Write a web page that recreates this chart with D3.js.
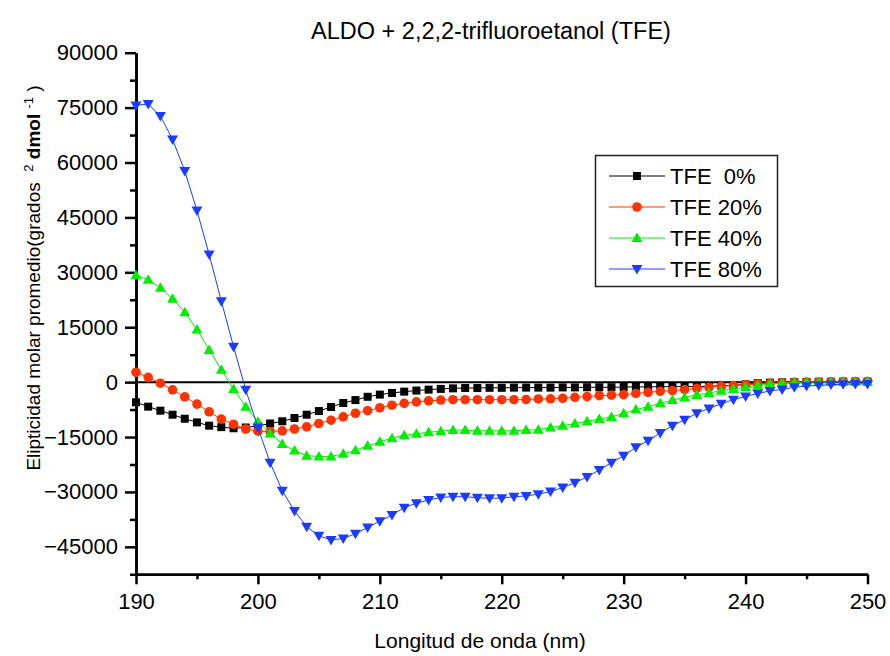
<!DOCTYPE html>
<html>
<head>
<meta charset="utf-8">
<script src="https://cdn.jsdelivr.net/npm/d3@7/dist/d3.min.js"></script>
<style>
    body { margin: 0; background: #fff; }
    #canvas text { font-family: "Liberation Sans", Arial, sans-serif; fill: #000; }
</style>
</head>
<body>
<div id="canvas"></div>
<script>
"use strict"

// DATA

let wavelengths = [
    190, 191, 192, 193, 194, 195, 196, 197, 198, 199,
    200, 201, 202, 203, 204, 205, 206, 207, 208, 209,
    210, 211, 212, 213, 214, 215, 216, 217, 218, 219,
    220, 221, 222, 223, 224, 225, 226, 227, 228, 229,
    230, 231, 232, 233, 234, 235, 236, 237, 238, 239,
    240, 241, 242, 243, 244, 245, 246, 247, 248, 249,
    250
];

let tfe0 = [
    -5500, -6700, -7800, -8900, -10000, -11000, -11900, -12300, -12600, -12400,
    -12000, -11300, -10700, -9800, -8900, -7900, -6800, -5700, -4900, -4000,
    -3400, -2950, -2600, -2300, -2050, -1850, -1700, -1600, -1600, -1550,
    -1550, -1500, -1500, -1500, -1500, -1450, -1450, -1400, -1400, -1400,
    -1350, -1300, -1300, -1250, -1250, -1200, -1200, -1100, -1000, -900,
    -600, -300, -150, -50, 0, 50, 100, 100, 150, 150,
    150
];

let tfe20 = [
    2700, 1300, -300, -2100, -4000, -6000, -8100, -10100, -11500, -12800,
    -13400, -13500, -13300, -12800, -12200, -11300, -10400, -9500, -8500, -7800,
    -7000, -6300, -5800, -5400, -5100, -4900, -4800, -4800, -4800, -4800,
    -4800, -4800, -4750, -4600, -4550, -4400, -4150, -3950, -3700, -3550,
    -3400, -3100, -2800, -2500, -2300, -2050, -1700, -1400, -1150, -950,
    -700, -500, -330, -200, -50, 0, 50, 100, 100, 150,
    150
];

let tfe40 = [
    29200, 28000, 25800, 22800, 19100, 14400, 8800, 3400, -1900, -6700,
    -10800, -14000, -16900, -18700, -20100, -20300, -20300, -19600, -18600, -17400,
    -16300, -15300, -14500, -14100, -13700, -13400, -13100, -13100, -13300, -13300,
    -13300, -13300, -13100, -13000, -12400, -11900, -11300, -10700, -10100, -9500,
    -8500, -7500, -6700, -5800, -4900, -4200, -3500, -2950, -2350, -1850,
    -1400, -950, -500, -330, -150, -50, 0, 50, 100, 100,
    150
];

let tfe80 = [
    75600, 76000, 72700, 66300, 57700, 46900, 34900, 22100, 9700, -2100,
    -12400, -22000, -29700, -35200, -39500, -42000, -43100, -42700, -41400, -39700,
    -38000, -36300, -34300, -33100, -32200, -31500, -31300, -31300, -31600, -31700,
    -31700, -31300, -31100, -30600, -29900, -28800, -27500, -25900, -24000, -22000,
    -20100, -17800, -16000, -13900, -11900, -10300, -8500, -7200, -5900, -4800,
    -3900, -3100, -2400, -2000, -1400, -1050, -870, -680, -600, -500,
    -500
];

let seriesNames = ["TFE  0%", "TFE 20%", "TFE 40%", "TFE 80%"];
let seriesValues = [tfe0, tfe20, tfe40, tfe80];
let seriesColors = ["#000000", "#ff3300", "#00ee00", "#1a3cff"];
let seriesSymbols = ["square", "circle", "triangleUp", "triangleDown"];

let xTicks = [190, 200, 210, 220, 230, 240, 250];
let xMinorTicks = [195, 205, 215, 225, 235, 245];
let yTicks = [-45000, -30000, -15000, 0, 15000, 30000, 45000, 60000, 75000, 90000];
let yMinorTicks = [-52500, -37500, -22500, -7500, 7500, 22500, 37500, 52500, 67500, 82500];


// CONFIGURATION VARIABLES

let svgWidth = 890;
let svgHeight = 656;
let plotLeft = 136;
let plotRight = 867.5;
let plotTop = 52.7;
let plotBottom = 574.3;


// CREATE SVG

let svg = d3.select("#canvas")
    .append("svg")
    .attr("width", svgWidth)
    .attr("height", svgHeight);


// SCALES

let xScale = d3.scaleLinear()
    .domain([190, 250])
    .range([plotLeft, plotRight]);

let yScale = d3.scaleLinear()
    .domain([-52500, 90000])
    .range([plotBottom, plotTop]);


// AXES

let xAxis = svg.append("g")
    .attr("transform", "translate(0," + plotBottom + ")")
    .call(d3.axisBottom(xScale).tickValues(xTicks).tickSize(10).tickPadding(9)
        .tickSizeOuter(0).tickFormat(d3.format("d")));

svg.append("g")
    .attr("transform", "translate(0," + plotBottom + ")")
    .call(d3.axisBottom(xScale).tickValues(xMinorTicks).tickSize(5).tickFormat("").tickSizeOuter(0));

let yAxis = svg.append("g")
    .attr("transform", "translate(" + plotLeft + ",0)")
    .call(d3.axisLeft(yScale).tickValues(yTicks).tickSize(11).tickPadding(7)
        .tickSizeOuter(0).tickFormat(d3.format("d")));

svg.append("g")
    .attr("transform", "translate(" + plotLeft + ",0)")
    .call(d3.axisLeft(yScale).tickValues(yMinorTicks).tickSize(6).tickFormat("").tickSizeOuter(0));

svg.selectAll(".domain, .tick line")
    .attr("stroke", "#000")
    .attr("stroke-width", 2.5);

xAxis.selectAll(".tick text")
    .style("font-size", "22px");

yAxis.selectAll(".tick text")
    .style("font-size", "22px");


// ZERO LINE

svg.append("line")
    .attr("x1", xScale(190))
    .attr("x2", xScale(250))
    .attr("y1", yScale(0))
    .attr("y2", yScale(0))
    .attr("stroke", "#000")
    .attr("stroke-width", 2);


// SYMBOLS

function drawSymbol(g, type, cx, cy, color) {
    if (type === "square") {
        g.append("rect")
            .attr("x", cx - 4).attr("y", cy - 4)
            .attr("width", 8).attr("height", 8)
            .attr("fill", color);
    } else if (type === "circle") {
        g.append("circle")
            .attr("cx", cx).attr("cy", cy).attr("r", 4.8)
            .attr("fill", color);
    } else if (type === "triangleUp") {
        g.append("path")
            .attr("d", "M" + (cx - 5.5) + "," + (cy + 4) + "L" + (cx + 5.5) + "," + (cy + 4) + "L" + cx + "," + (cy - 5.5) + "Z")
            .attr("fill", color);
    } else {
        g.append("path")
            .attr("d", "M" + (cx - 5.5) + "," + (cy - 4) + "L" + (cx + 5.5) + "," + (cy - 4) + "L" + cx + "," + (cy + 5.5) + "Z")
            .attr("fill", color);
    }
}


// DRAW SERIES

let line = d3.line()
    .x(function(d) { return xScale(d[0]); })
    .y(function(d) { return yScale(d[1]); });

seriesValues.forEach(function(values, i) {
    let points = wavelengths.map(function(w, j) { return [w, values[j]]; });
    let g = svg.append("g");

    g.append("path")
        .datum(points)
        .attr("fill", "none")
        .attr("stroke", seriesColors[i])
        .attr("stroke-width", 1)
        .attr("d", line);

    points.forEach(function(p) {
        drawSymbol(g, seriesSymbols[i], xScale(p[0]), yScale(p[1]), seriesColors[i]);
    });
});


// LEGEND

let legend = svg.append("g");

legend.append("rect")
    .attr("x", 595.5)
    .attr("y", 155.5)
    .attr("width", 182)
    .attr("height", 131)
    .attr("fill", "#fff")
    .attr("stroke", "#222")
    .attr("stroke-width", 1.5);

seriesNames.forEach(function(name, i) {
    let rowY = 176 + i * 31;

    legend.append("line")
        .attr("x1", 609)
        .attr("x2", 665)
        .attr("y1", rowY)
        .attr("y2", rowY)
        .attr("stroke", seriesColors[i])
        .attr("stroke-width", 1);

    drawSymbol(legend, seriesSymbols[i], 637, rowY, seriesColors[i]);

    legend.append("text")
        .attr("x", 670)
        .attr("y", rowY)
        .attr("dy", "0.36em")
        .style("font-size", "22px")
        .style("white-space", "pre")
        .text(name);
});


// TITLE

svg.append("text")
    .attr("x", 491)
    .attr("y", 39)
    .attr("text-anchor", "middle")
    .style("font-size", "23.5px")
    .text("ALDO + 2,2,2-trifluoroetanol (TFE)");


// AXIS LABELS

svg.append("text")
    .attr("x", 480)
    .attr("y", 648)
    .attr("text-anchor", "middle")
    .style("font-size", "21px")
    .text("Longitud de onda (nm)");

let yLabel = svg.append("text")
    .attr("transform", "rotate(-90)")
    .attr("x", -278)
    .attr("y", 40)
    .attr("text-anchor", "middle")
    .style("font-size", "19px")
    .style("white-space", "pre");

yLabel.append("tspan").text("Elipticidad molar promedio(grados  ");
yLabel.append("tspan").attr("baseline-shift", "super").style("font-size", "13px").text("2");
yLabel.append("tspan").text(" ");
yLabel.append("tspan").style("font-weight", "bold").text("dmol");
yLabel.append("tspan").text(" ");
yLabel.append("tspan").attr("baseline-shift", "super").style("font-size", "13px").text("-1");
yLabel.append("tspan").text(" )");
</script>
</body>
</html>
